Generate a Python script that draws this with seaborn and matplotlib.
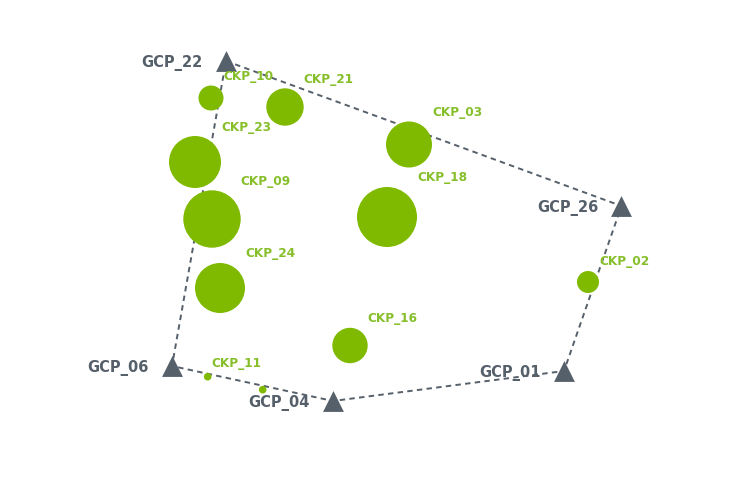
import matplotlib
matplotlib.use("Agg")
import matplotlib.pyplot as plt
import seaborn as sns
import numpy as np
import pandas as pd

# Ground control points (GCP), in plot coordinates (y up)
gcp_names = ["GCP_22", "GCP_26", "GCP_01", "GCP_04", "GCP_06"]
gcp_x = [226, 621.5, 564, 333, 172]
gcp_y = [419, 274, 109, 79, 114]

# Check points (CKP) with error magnitude (bubble radius)
ckp_names = ["CKP_10", "CKP_21", "CKP_23", "CKP_09", "CKP_24", "CKP_18",
             "CKP_03", "CKP_16", "CKP_02", "CKP_11", ""]
ckp_x = [211, 285, 195, 212, 220, 387, 409, 350, 588, 207.7, 262.7]
ckp_y = [382, 373, 318, 261, 192, 263, 335.5, 134.5, 198, 103.3, 90.3]
ckp_err = [12.5, 18.7, 26, 28.7, 25, 30, 23, 17.7, 11, 3.8, 3.8]

W, H, DPI = 737, 481, 100
sns.set_theme(style="white")
plt.rcParams["font.family"] = ["DejaVu Sans"]

fig = plt.figure(figsize=(W / DPI, H / DPI), dpi=DPI)
ax = fig.add_axes([0, 0, 1, 1])
ax.set_xlim(0, W)
ax.set_ylim(0, H)
ax.set_axis_off()

gcp_col = "#56606b"
ckp_col = "#7fba00"
lab_col = "#86bf2a"
px = 72 / DPI

# closed polygon of GCPs
poly = pd.DataFrame({"x": gcp_x + [gcp_x[0]], "y": gcp_y + [gcp_y[0]],
                     "o": range(len(gcp_x) + 1)})
sns.lineplot(data=poly, x="x", y="y", sort=False, estimator=None, ax=ax,
             color=gcp_col, lw=1.4, linestyle=(0, (2.8, 2.2)), zorder=1)

# CKP bubbles (radius px -> points)
ckp = pd.DataFrame({"x": ckp_x, "y": ckp_y, "r": ckp_err, "name": ckp_names})
sizes = (2 * ckp["r"] * px) ** 2
sns.scatterplot(data=ckp, x="x", y="y", s=sizes, color=ckp_col,
                linewidth=0, ax=ax, zorder=2, legend=False)

# GCP triangles
gcp = pd.DataFrame({"x": gcp_x, "y": gcp_y, "name": gcp_names})
sns.scatterplot(data=gcp, x="x", y="y", marker="^", s=15 ** 2, color=gcp_col,
                linewidth=0, ax=ax, zorder=3, legend=False)

for _, row in ckp.iterrows():
    if not row["name"]:
        continue
    r = row["r"] * px
    ax.annotate(row["name"], (row["x"], row["y"]), xytext=(r, r + 10 * px),
                textcoords="offset points", ha="left", va="center",
                color=lab_col, fontsize=8.7, fontweight="bold", zorder=4)

for _, row in gcp.iterrows():
    ax.annotate(row["name"], (row["x"], row["y"]), xytext=(-23 * px, -1 * px),
                textcoords="offset points", ha="right", va="center",
                color=gcp_col, fontsize=10.5, fontweight="bold", zorder=4)

fig.savefig("out.png", dpi=DPI)
